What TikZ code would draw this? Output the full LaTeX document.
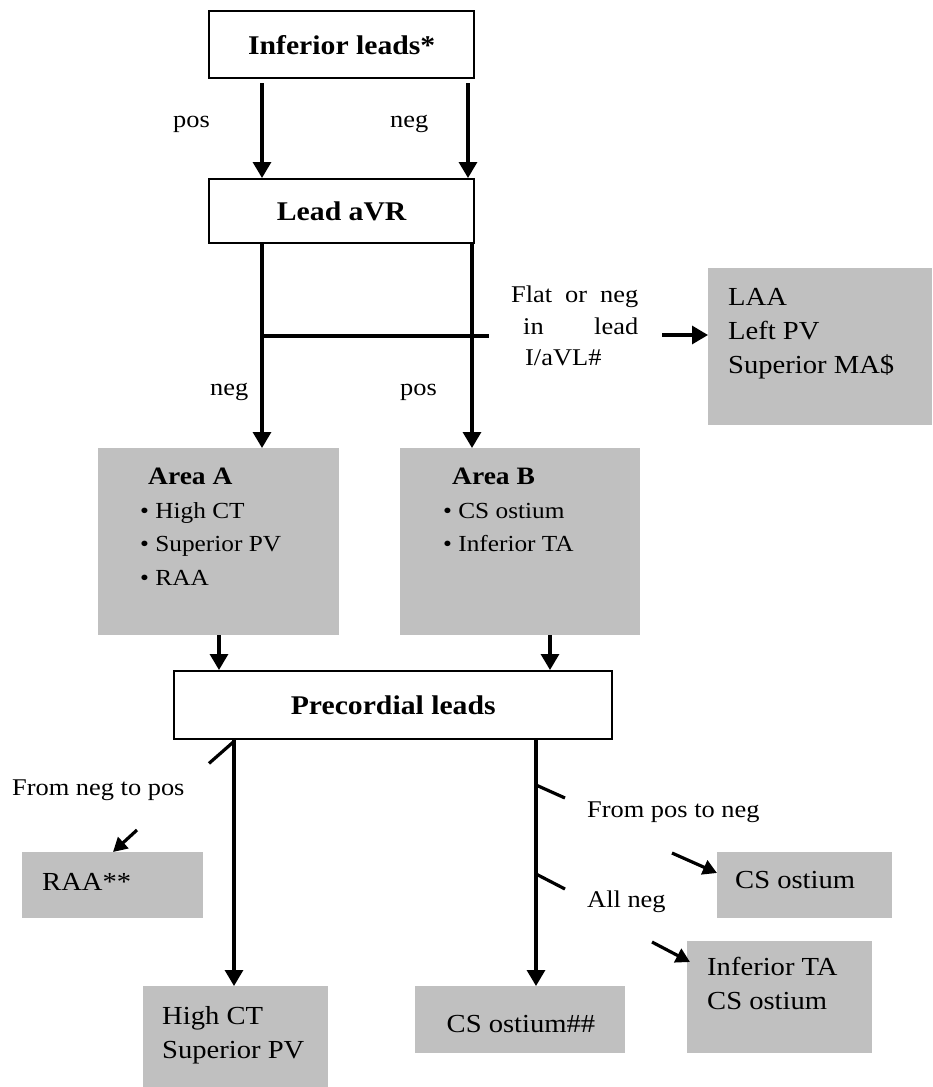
\documentclass[tikz,border=0pt]{standalone}
\usepackage{fontspec}
\setmainfont[FakeStretch=1.1]{Liberation Serif}
\usetikzlibrary{arrows.meta}
\definecolor{boxgray}{RGB}{192,192,192}
\begin{document}
\begin{tikzpicture}[x=1pt,y=-1pt,
  wbox/.style={draw, line width=2.4pt, fill=white, inner sep=0pt, anchor=north west,
    font=\bfseries\fontsize{27}{32}\selectfont},
  gbox/.style={fill=boxgray, inner sep=0pt, anchor=north west},
  lbl/.style={inner sep=0pt, anchor=base west, font=\fontsize{24}{30}\selectfont},
  btxt/.style={inner sep=0pt, anchor=north west, align=left, font=\fontsize{26}{34}\selectfont},
  ln/.style={line width=3.2pt},
  arr/.style={line width=3.2pt, -{Triangle[length=16pt,width=18pt]}},
  arrs/.style={line width=3.2pt, -{Triangle[length=14pt,width=15pt]}}
]
\useasboundingbox (0,0) rectangle (932,1087);

% white boxes
\node[wbox, minimum width=265pt, minimum height=67pt] (inf) at (208,10) {Inferior leads*};
\node[wbox, minimum width=265pt, minimum height=64pt] (avr) at (208,178) {Lead aVR};
\node[wbox, minimum width=438pt, minimum height=68pt] (prec) at (173,670) {Precordial leads};

% gray boxes
\node[gbox, minimum width=224pt, minimum height=157pt] (laa) at (708,268) {};
\node[gbox, minimum width=241pt, minimum height=187pt] (areaA) at (98,448) {};
\node[gbox, minimum width=240pt, minimum height=187pt] (areaB) at (400,448) {};
\node[gbox, minimum width=181pt, minimum height=66pt] (raa) at (22,852) {};
\node[gbox, minimum width=175pt, minimum height=66pt] (cs1) at (717,852) {};
\node[gbox, minimum width=185pt, minimum height=112pt] (ita) at (687,941) {};
\node[gbox, minimum width=185pt, minimum height=101pt] (hct) at (143,986) {};
\node[gbox, minimum width=210pt, minimum height=67pt] (cs2) at (415,986) {};

% texts in gray boxes
\node[btxt] (laat) at (728,288) {LAA\\Left PV\\Superior MA\$};
\node[btxt, font=\fontsize{23}{33.5}\selectfont] (areaAt) at (140,468)
  {{\bfseries\fontsize{25}{33.5}\selectfont\hspace*{8pt}Area A}\\\textbullet\ High CT\\\textbullet\ Superior PV\\\textbullet\ RAA};
\node[btxt, font=\fontsize{23}{33.5}\selectfont] (areaBt) at (443,468)
  {{\bfseries\fontsize{25}{33.5}\selectfont\hspace*{9pt}Area B}\\\textbullet\ CS ostium\\\textbullet\ Inferior TA};
\node[lbl, font=\fontsize{26}{34}\selectfont] (raat) at (42,890) {RAA**};
\node[lbl, font=\fontsize{26}{34}\selectfont] (cs1t) at (735,888) {CS ostium};
\node[btxt] (itat) at (707,957) {Inferior TA\\CS ostium};
\node[btxt] (hctt) at (162,1006) {High CT\\Superior PV};
\node[inner sep=0pt, anchor=base, font=\fontsize{26}{34}\selectfont] (cs2t) at (521,1032) {CS ostium\#\#};

% labels
\node[lbl] (l1) at (173,127) {pos};
\node[lbl] (l2) at (390,127) {neg};
\node[lbl] (l3) at (210,395) {neg};
\node[lbl] (l4) at (400,395) {pos};
\node[inner sep=0pt, anchor=north west, align=left, font=\fontsize{24}{31.5}\selectfont] (flat) at (511,286)
  {\makebox[127pt][s]{Flat or neg}\\\hspace*{12pt}\makebox[115pt][s]{in lead}\\\hspace*{14pt}I/aVL\#};
\node[lbl] (l5) at (12,795) {From neg to pos};
\node[lbl] (l6) at (587,817) {From pos to neg};
\node[lbl] (l7) at (587,907) {All neg};

% connectors
\draw[arr] ([xshift=54pt,yshift=-4pt]inf.south west) -- ([xshift=54pt]avr.north west);
\draw[arr] ([xshift=260pt,yshift=-4pt]inf.south west) -- ([xshift=260pt]avr.north west);
\draw[arr] ([xshift=54pt]avr.south west) -- ([xshift=164pt]areaA.north west);
\draw[arr] ([xshift=264pt]avr.south west) -- ([xshift=72pt]areaB.north west);
\coordinate (hl) at (262,336);
\coordinate (hr) at (489,336);
\draw[ln] (hl) -- (hr);
\coordinate (fa) at (662,335);
\draw[arr] (fa) -- (laa.west |- fa);
\draw[arr] ([xshift=121pt]areaA.south west) -- ([xshift=46pt]prec.north west);
\draw[arr] ([xshift=150pt]areaB.south west) -- ([xshift=377pt]prec.north west);
\draw[arr] ([xshift=61pt]prec.south west) -- ([xshift=91pt]hct.north west);
\draw[arr] ([xshift=363pt]prec.south west) -- ([xshift=121pt]cs2.north west);
\draw[ln] ([xshift=61pt,yshift=-1pt]prec.south west) -- ++(-25,22);
\coordinate (s1) at (536,785);
\coordinate (s2) at (536,874);
\draw[ln] (s1) -- ++(29,13);
\draw[ln] (s2) -- ++(29,15);
\coordinate (ra) at (137,830);
\draw[arrs] (ra) -- ([xshift=91pt]raa.north west);
\coordinate (ca) at (672,853);
\draw[arrs] (ca) -- ([yshift=-21pt]cs1.north west);
\coordinate (ia) at (652,942);
\draw[arrs] (ia) -- ([xshift=3pt,yshift=-21pt]ita.north west);
\end{tikzpicture}
\end{document}
